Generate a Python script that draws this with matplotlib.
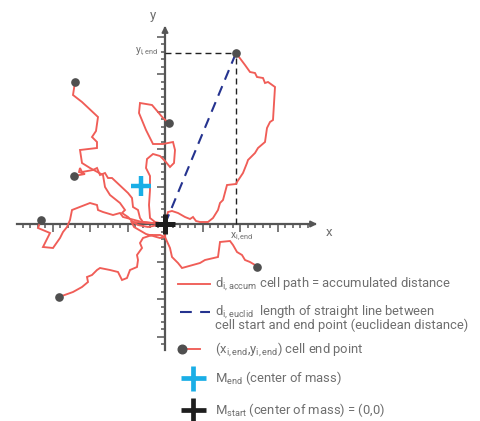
import numpy as np
import matplotlib
matplotlib.use("Agg")
import matplotlib.pyplot as plt
from matplotlib.ticker import FixedLocator

plt.rcParams['font.family'] = ['Roboto', 'DejaVu Sans']
plt.rcParams['mathtext.fontset'] = 'custom'
plt.rcParams['mathtext.rm'] = 'Roboto'
plt.rcParams['lines.scale_dashes'] = False

# Cell tracks, each starting at the common origin (x, y) = (0, 0)
track_1 = [(0, 0), (3, 12), (7, 13), (13, 11), (20, 7), (25, 5), (28, 7), (31, 3), (35, 2),
           (43, 2), (48, 6), (53, 14), (55, 21), (58, 24), (62, 39), (71, 40), (72, 42),
           (78, 51), (82, 61), (83, 64), (90, 71), (93, 76), (100, 82), (102, 96), (105, 102),
           (108, 104), (110, 137), (103, 142), (100, 141), (98, 146), (92, 147), (90, 151),
           (85, 152), (80, 159), (71, 171)]
track_2 = [(0, 0), (-10, 2), (-15, 6), (-16, 19), (-15, 34), (-15, 48), (-19, 56), (-18, 65),
           (-12, 70), (-5, 68), (0, 63), (5, 57), (9, 61), (10, 74), (8, 82), (-2, 80),
           (-12, 80), (-19, 94), (-26, 111), (-25, 121), (-13, 119), (-7, 112), (-2, 106),
           (4, 101)]
track_3 = [(0, 0), (-15, 1), (-32, 2), (-37, 7), (-43, 11), (-40, 14), (-45, 21), (-55, 29),
           (-60, 37), (-62, 49), (-75, 56), (-83, 61), (-85, 74), (-68, 76), (-68, 82),
           (-73, 87), (-69, 93), (-67, 107), (-83, 122), (-92, 129), (-90, 142)]
track_4 = [(0, 0), (-13, 1), (-22, 2), (-25, 6), (-27, 14), (-32, 17), (-33, 26), (-37, 31),
           (-53, 46), (-57, 46), (-60, 51), (-65, 49), (-68, 56), (-72, 54), (-83, 52),
           (-85, 56), (-86, 52), (-80, 50), (-91, 48)]
track_5 = [(0, 0), (-12, 1), (-23, 2), (-38, 6), (-42, 7), (-45, 11), (-52, 9), (-62, 12),
           (-67, 14), (-68, 19), (-75, 21), (-93, 14), (-95, 4), (-98, -3), (-102, -8),
           (-105, -14), (-112, -24), (-122, -23), (-115, -9), (-127, -4), (-124, 4)]
track_6 = [(0, 0), (-7, -1), (-17, -3), (-27, -1), (-34, 3), (-31, -3), (-19, -10), (-5, -14),
           (0, -13), (-5, -11), (-13, -11), (-22, -14), (-25, -19), (-23, -24), (-28, -31),
           (-27, -36), (-28, -43), (-35, -46), (-38, -54), (-43, -56), (-47, -48), (-55, -46),
           (-65, -44), (-68, -46), (-73, -51), (-78, -53), (-77, -58), (-83, -63), (-92, -68),
           (-106, -73)]
track_7 = [(0, 0), (0, -13), (5, -24), (7, -33), (13, -39), (17, -44), (35, -39), (40, -36),
           (53, -33), (55, -18), (65, -17), (68, -21), (72, -28), (77, -31), (80, -36),
           (85, -38), (90, -41), (92, -43)]
tracks = [track_1, track_2, track_3, track_4, track_5, track_6, track_7]

highlight_end = track_1[-1]   # (x_i,end, y_i,end)
m_start = (0, 0)
m_end = (-24, 38)

RED = '#f05d57'
DOT = '#4f4f4f'
AXIS = '#555555'
TEXT = '#6e6e6e'
NAVY = '#25338f'
CYAN = '#1aaee6'

fig = plt.figure(figsize=(4.8, 4.21), dpi=100)
ax = fig.add_axes([0, 0, 1, 1])
ax.set_xlim(-165, 315)
ax.set_ylim(-197, 224)

# axes through the origin
for s in ('top', 'right'):
    ax.spines[s].set_visible(False)
ax.spines['bottom'].set_position(('data', 0))
ax.spines['left'].set_position(('data', 0))
ax.spines['bottom'].set_bounds(-148, 150)
ax.spines['left'].set_bounds(-126, 196)
for s in ('bottom', 'left'):
    ax.spines[s].set_color(AXIS)
    ax.spines[s].set_linewidth(1.6)
    ax.spines[s].set_zorder(1)

ax.xaxis.set_major_locator(FixedLocator(np.arange(-112.5, 150, 37.5)))
ax.xaxis.set_minor_locator(FixedLocator(np.arange(-142.5, 146, 7.5)))
ax.yaxis.set_major_locator(FixedLocator(np.arange(-112.5, 190, 37.5)))
ax.yaxis.set_minor_locator(FixedLocator(np.arange(-120, 190, 7.5)))
ax.tick_params(which='both', direction='out', color=AXIS, width=1.1,
               labelbottom=False, labelleft=False)
ax.tick_params(which='major', length=5.5)
ax.tick_params(which='minor', length=2.8)

ax.annotate('', xy=(155, 0), xytext=(140, 0),
            arrowprops=dict(arrowstyle='-|>', color=AXIS, lw=1.4, mutation_scale=9))
ax.annotate('', xy=(0, 201), xytext=(0, 186),
            arrowprops=dict(arrowstyle='-|>', color=AXIS, lw=1.4, mutation_scale=9))

ax.text(164, -8, 'x', color=TEXT, fontsize=9.5, ha='center', va='center')
ax.text(-12, 209, 'y', color=TEXT, fontsize=9.5, ha='center', va='center')
ax.text(-7, highlight_end[1] + 1, r'y$_\mathregular{i,end}$', color=TEXT, fontsize=7.5,
        ha='right', va='center')
ax.text(highlight_end[0] - 6, -13, r'x$_\mathregular{i,end}$', color=TEXT, fontsize=7.5,
        ha='left', va='center')

# projection of the end point onto both axes
ax.plot([0, highlight_end[0]], [highlight_end[1], highlight_end[1]], color='#222222',
        lw=1.0, dashes=(4.3, 2.9), zorder=2)
ax.plot([highlight_end[0], highlight_end[0]], [0, highlight_end[1]], color='#222222',
        lw=1.0, dashes=(4.3, 2.9), zorder=2)

# accumulated paths
for tr in tracks:
    xs, ys = zip(*tr)
    ax.plot(xs, ys, color=RED, lw=1.35, solid_joinstyle='miter', zorder=3)
    ax.plot(xs[-1], ys[-1], 'o', color=DOT, ms=5.2, zorder=5)

# euclidean distance
ax.plot([m_start[0], highlight_end[0]], [m_start[1], highlight_end[1]], color=NAVY,
        lw=1.5, dashes=(7.5, 5), zorder=4)

# centres of mass
ax.plot(*m_end, marker='+', color=CYAN, ms=14.5, mew=3.2, zorder=6)
ax.plot(*m_start, marker='+', color='#1e1e1e', ms=14.5, mew=3.6, zorder=6)

# legend (key drawn in data space below the origin)
lx0, lx1, tx = 13, 45, 50
fs = 9.4
y1 = 224 - 284
ax.plot([lx0, lx1], [y1, y1], color=RED, lw=1.35)
ax.text(tx, y1, r'd$_\mathregular{i,accum}$ cell path = accumulated distance',
        color=TEXT, fontsize=fs, va='center')
y2 = 224 - 312
ax.plot([lx0 + 2, lx1], [y2, y2], color=NAVY, lw=1.5, dashes=(8.5, 6))
ax.text(tx, y2, r'd$_\mathregular{i,euclid}$  length of straight line between',
        color=TEXT, fontsize=fs, va='center')
ax.text(tx, y2 - 13.5, 'cell start and end point (euclidean distance)',
        color=TEXT, fontsize=fs, va='center')
y3 = 224 - 349
ax.plot([lx0 + 4, lx1 - 10], [y3, y3], color=RED, lw=1.35)
ax.plot(lx0 + 4, y3, 'o', color=DOT, ms=6.2)
ax.text(tx, y3, r'(x$_\mathregular{i,end}$,y$_\mathregular{i,end}$) cell end point',
        color=TEXT, fontsize=fs, va='center')
y4 = 224 - 378
ax.plot(lx0 + 15, y4, marker='+', color=CYAN, ms=18, mew=3.4)
ax.text(tx, y4, r'M$_\mathregular{end}$ (center of mass)', color=TEXT, fontsize=fs,
        va='center')
y5 = 224 - 410
ax.plot(lx0 + 15, y5, marker='+', color='#1e1e1e', ms=18, mew=3.4)
ax.text(tx, y5, r'M$_\mathregular{start}$ (center of mass) = (0,0)', color=TEXT,
        fontsize=fs, va='center')

fig.savefig('out.png', dpi=100)
